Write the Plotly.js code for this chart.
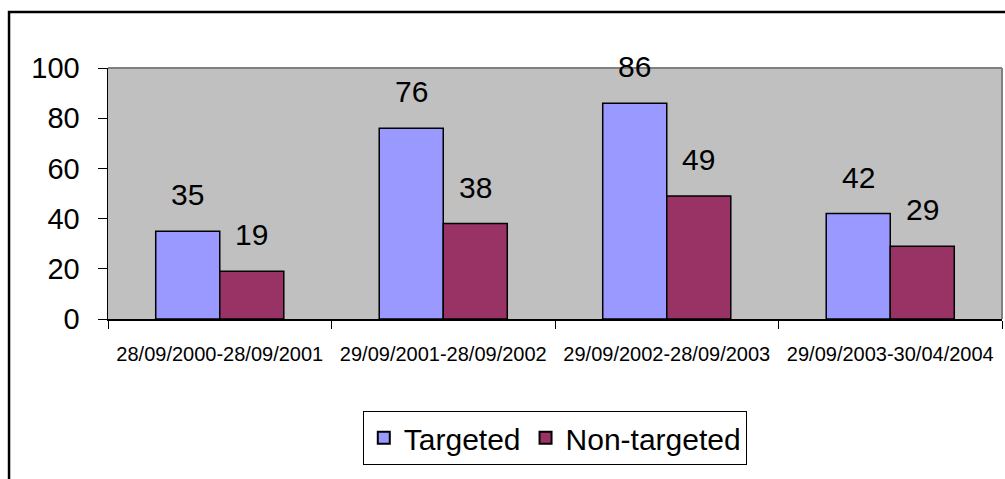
<!DOCTYPE html>
<html>
<head>
<meta charset="utf-8">
<script src="https://cdn.plot.ly/plotly-3.0.1.min.js"></script>
<style>html,body{margin:0;padding:0;background:#fff;}#chart{width:1005px;height:479px;}</style>
</head>
<body>
<div id="chart"></div>
<script>
var categories = ["28/09/2000-28/09/2001", "29/09/2001-28/09/2002", "29/09/2002-28/09/2003", "29/09/2003-30/04/2004"];
var targeted = [35, 76, 86, 42];
var nonTargeted = [19, 38, 49, 29];
var yTicks = [0, 20, 40, 60, 80, 100];

var FONT = "'Liberation Sans', Arial, sans-serif";

var traces = [
  {type: "bar", name: "Targeted", x: categories, y: targeted,
   marker: {color: "#9999FF", line: {color: "#000000", width: 1.5}}, hoverinfo: "none"},
  {type: "bar", name: "Non-targeted", x: categories, y: nonTargeted,
   marker: {color: "#993366", line: {color: "#000000", width: 1.5}}, hoverinfo: "none"}
];

var annotations = [];
[targeted, nonTargeted].forEach(function (series, si) {
  series.forEach(function (v, i) {
    annotations.push({
      x: categories[i], y: v, xref: "x", yref: "y",
      text: String(v), showarrow: false,
      xshift: si === 0 ? -32 : 32, yshift: 18, yanchor: "bottom",
      font: {family: FONT, size: 30, color: "#000"}
    });
  });
});

var layout = {
  width: 1005, height: 479,
  margin: {l: 108, r: 3, t: 68, b: 160, pad: 0},
  paper_bgcolor: "#ffffff",
  plot_bgcolor: "#C0C0C0",
  barmode: "group",
  bargap: 0.427,
  bargroupgap: 0,
  showlegend: true,
  legend: {
    orientation: "h", x: 0.285, y: -0.366, xanchor: "left", yanchor: "top",
    bgcolor: "#ffffff", bordercolor: "#000000", borderwidth: 1,
    font: {family: FONT, size: 30, color: "#000"},
    itemsizing: "constant", itemwidth: 30
  },
  xaxis: {
    type: "category", tickson: "boundaries", tickangle: 0,
    ticks: "outside", ticklen: 8, tickcolor: "#000", tickwidth: 1,
    showline: true, linecolor: "#000", linewidth: 1.5,
    showgrid: false, zeroline: false,
    tickfont: {family: FONT, size: 20, color: "#000"},
    ticklabelstandoff: 16,
    fixedrange: true
  },
  yaxis: {
    range: [0, 100], tickvals: yTicks, ticktext: yTicks.map(String),
    ticks: "outside", ticklen: 9, tickcolor: "#000", tickwidth: 1,
    showline: true, linecolor: "#000", linewidth: 1.5,
    showgrid: false, zeroline: false,
    tickfont: {family: FONT, size: 29, color: "#000"},
    ticklabelstandoff: 12,
    fixedrange: true
  },
  annotations: annotations,
  shapes: [
    {type: "line", xref: "paper", yref: "paper", x0: 0, x1: 1, y0: 1, y1: 1,
     line: {color: "#808080", width: 2}},
    {type: "line", xref: "paper", yref: "paper", x0: 1, x1: 1, y0: 0, y1: 1,
     line: {color: "#808080", width: 2}},
    {type: "rect", xref: "paper", yref: "paper", x0: -0.1107, x1: 1.02, y0: -0.75, y1: 1.2231,
     line: {color: "#000000", width: 2.5}, fillcolor: "rgba(0,0,0,0)", layer: "above"}
  ]
};

Plotly.newPlot("chart", traces, layout, {displayModeBar: false, staticPlot: true});
</script>
</body>
</html>
